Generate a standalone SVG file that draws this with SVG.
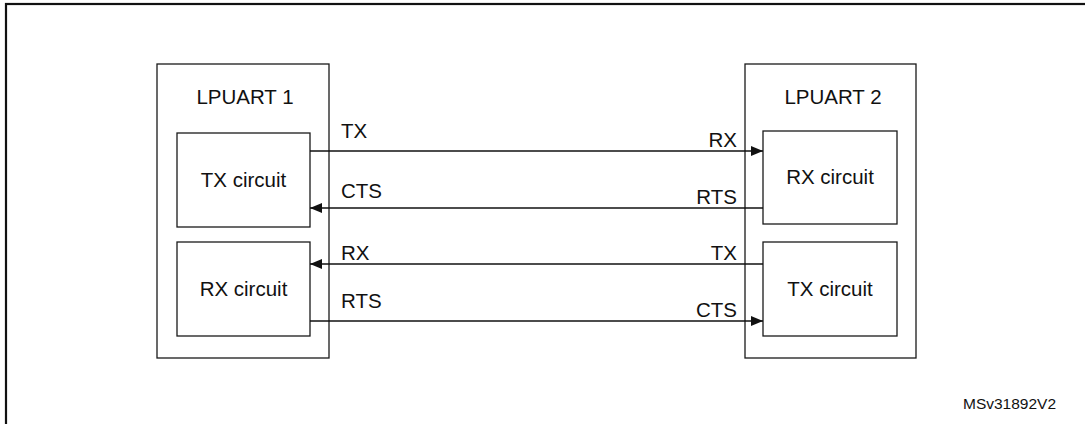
<svg xmlns="http://www.w3.org/2000/svg" width="1085" height="424" viewBox="0 0 1085 424">
<defs>
<style>
.box{fill:#fff;stroke:#1a1a1a;stroke-width:1.3}
.frame{fill:none;stroke:#111;stroke-width:2.2}
.t{font-family:"Liberation Sans",Arial,sans-serif;font-size:20.5px;fill:#111}
.e{text-anchor:end}
.m{text-anchor:middle}
.ln{stroke:#111;stroke-width:1.3;fill:none}
.id{font-family:"Liberation Sans",Arial,sans-serif;font-size:15.5px;fill:#111}
</style>
<marker id="ah" markerWidth="12" markerHeight="10" refX="12" refY="5" orient="auto" markerUnits="userSpaceOnUse">
<path d="M0,0 L12,5 L0,10 Z" fill="#111"/>
</marker>
</defs>
<rect width="1085" height="424" fill="#fff"/>
<rect class="frame" x="6" y="4" width="1110" height="450"/>
<g id="lpuart1">
<rect class="box" x="157" y="64" width="172" height="294"/>
<text class="t m" x="245" y="104">LPUART 1</text>
</g>
<g id="tx1">
<rect class="box" x="177" y="133" width="133" height="94"/>
<text class="t m" x="243.5" y="187">TX circuit</text>
</g>
<g id="rx1">
<rect class="box" x="177" y="242" width="133" height="94"/>
<text class="t m" x="243.5" y="296">RX circuit</text>
</g>
<g id="lpuart2">
<rect class="box" x="745" y="64" width="171" height="294"/>
<text class="t m" x="833" y="104">LPUART 2</text>
</g>
<g id="rx2">
<rect class="box" x="763" y="131" width="134" height="93"/>
<text class="t m" x="830" y="184">RX circuit</text>
</g>
<g id="tx2">
<rect class="box" x="763" y="242" width="134" height="94"/>
<text class="t m" x="830" y="296">TX circuit</text>
</g>
<g id="connectors">
<line class="ln" x1="310" y1="151" x2="763" y2="151" marker-end="url(#ah)"/>
<line class="ln" x1="763" y1="208" x2="310" y2="208" marker-end="url(#ah)"/>
<line class="ln" x1="763" y1="264" x2="310" y2="264" marker-end="url(#ah)"/>
<line class="ln" x1="310" y1="321" x2="763" y2="321" marker-end="url(#ah)"/>
<text class="t" x="341" y="138">TX</text>
<text class="t" x="341" y="198">CTS</text>
<text class="t" x="341" y="260">RX</text>
<text class="t" x="341" y="308">RTS</text>
<text class="t e" x="737" y="147">RX</text>
<text class="t e" x="737" y="204">RTS</text>
<text class="t e" x="737" y="260">TX</text>
<text class="t e" x="737" y="317">CTS</text>
</g>
<text class="id" x="963" y="409">MSv31892V2</text>
</svg>
